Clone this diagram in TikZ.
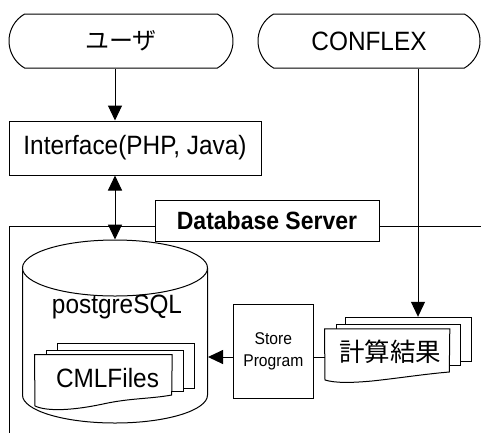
\documentclass[tikz,border=0pt]{standalone}
\usepackage{fontspec}
\setmainfont{Liberation Sans}[FakeStretch=0.92]
\newfontfamily\jpfont{Noto Sans CJK JP}
\usetikzlibrary{shapes.misc,arrows.meta,calc}
\begin{document}
\begin{tikzpicture}[x=1pt,y=-1pt,line width=1pt,
  big/.style={font=\fontsize{26.5}{30}\selectfont},
  term/.style={draw,rounded rectangle,rounded rectangle arc length=120,minimum height=54pt,inner sep=0pt,big},
  box/.style={draw,rectangle,inner sep=0pt},
  doc/.style={draw,fill=white,rectangle,inner sep=0pt},
  ghost/.style={rectangle,inner sep=0pt},
  tip/.tip={Triangle[length=15pt,width=14pt]},
  arr/.style={-tip},
  darr/.style={tip-tip},
]
\useasboundingbox (0,0) rectangle (481,432);

% terminators
\node[term,minimum width=224pt] (user) at (121,41) {\jpfont\fontsize{24}{28}\selectfont ユーザ};
\node[term,minimum width=222pt] (conflex) at (369,41) {CONFLEX};

% interface
\node[box,big,minimum width=252pt,minimum height=54pt] (ifc) at (135,148) {Interface(PHP, Java)};

% database server label and frame
\node[box,minimum width=224pt,minimum height=41pt,font=\fontsize{25}{28}\selectfont\bfseries] (dbs) at (267,220.5) {Database Server};
\coordinate (fy) at (0,226);
\coordinate (fbl) at (9,433);
\coordinate (fr) at (482,226);
\draw (fbl) -- (fbl |- fy) -- (dbs.west |- fy);
\draw (dbs.east |- fy) -- (fr);

% cylinder
\node[ghost,minimum width=185pt,minimum height=183pt] (db) at (115,331.5) {};
\draw[fill=white] (22.5,268) -- (22.5,395) arc[start angle=180,end angle=360,x radius=92.5pt,y radius=28pt] -- (207.5,268);
\draw[fill=white] (115,268) ellipse [x radius=92.5pt,y radius=28pt];
\node[big] (pg) at (117,307) {postgreSQL};

% CML files (stacked documents)
\node[doc,minimum width=136.7pt,minimum height=45pt] (cml3) at (125.65,365.8) {};
\node[doc,minimum width=136.6pt,minimum height=41.7pt] (cml2) at (115,370.85) {};
\node[ghost,minimum width=136.7pt,minimum height=51pt] (cml) at (103.35,380.5) {};
\draw[fill=white] (cml.north west) -- (35,406)
  .. controls (48,412) and (75,410) .. (103,404)
  .. controls (130,398) and (150,399) .. (171.7,395) -- (cml.north east) -- cycle;
\node[big] (cmltext) at (107.5,378.5) {CMLFiles};

% calculation results (stacked documents)
\node[doc,minimum width=126pt,minimum height=43.7pt] (calc3) at (408,339.15) {};
\node[doc,minimum width=124pt,minimum height=41pt] (calc2) at (398.7,344.5) {};
\node[ghost,minimum width=124.3pt,minimum height=50.7pt] (calc) at (387.15,354.65) {};
\draw[fill=white] (calc.north west) -- (325,380)
  .. controls (335,383) and (350,383) .. (372,381)
  .. controls (400,378) and (425,374) .. (449.3,372) -- (calc.north east) -- cycle;
\node[font=\fontsize{25.5}{28}\selectfont\jpfont] (calctext) at (390,352) {計算結果};

% store program
\node[box,minimum width=80pt,minimum height=94pt,align=center,font=\fontsize{17}{22.5}\selectfont] (store) at (273.3,351.3) {Store\\Program};

% connectors
\coordinate (lvl) at (0,357);
\coordinate (cx) at (418,0);
\draw[arr] ([xshift=-6pt]user.south) -- ([xshift=-20pt]ifc.north);
\draw[darr] ([xshift=-20pt]ifc.south) -- (db.north);
\draw[arr] (cx |- conflex.south) -- (cx |- calc3.north);
\draw[arr] (store.west |- lvl) -- (db.east |- lvl);
\draw (store.east |- lvl) -- (calc.west |- lvl);
\end{tikzpicture}
\end{document}
